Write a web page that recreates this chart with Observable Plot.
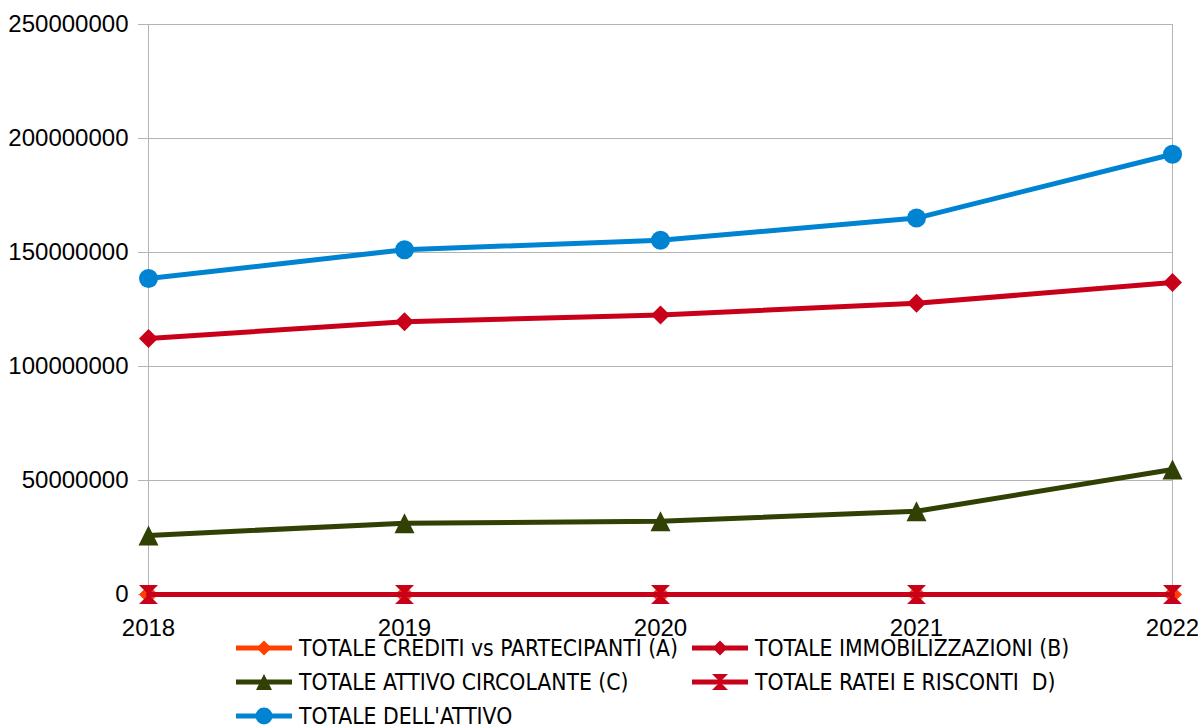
<!DOCTYPE html>
<html><head><meta charset="utf-8">
<script src="https://cdn.jsdelivr.net/npm/d3@7"></script>
<script src="https://cdn.jsdelivr.net/npm/@observablehq/plot@0.6"></script>
<style>
body{margin:0;background:#fff;}
#wrap{position:relative;width:1198px;height:728px;overflow:hidden;}
#legend{position:absolute;left:236px;top:631px;display:grid;grid-template-columns:456px auto;grid-auto-rows:34px;font-family:"Liberation Sans Narrow","DejaVu Sans Condensed",sans-serif;font-size:22.7px;color:#000;}
.item{display:flex;align-items:center;white-space:pre;}
.item svg{margin-right:7px;flex:none;}
</style></head><body><div id="wrap"></div>
<script>
const years = [2018, 2019, 2020, 2021, 2022];
const seriesNames = [
  "TOTALE CREDITI vs PARTECIPANTI (A)",
  "TOTALE IMMOBILIZZAZIONI (B)",
  "TOTALE ATTIVO CIRCOLANTE (C)",
  "TOTALE RATEI E RISCONTI  D)",
  "TOTALE DELL'ATTIVO"
];
const crediti = [0, 0, 0, 0, 0];
const immobilizzazioni = [112300000, 119600000, 122600000, 127700000, 136800000];
const circolante = [25900000, 31300000, 32100000, 36500000, 54800000];
const ratei = [0, 0, 0, 0, 0];
const totaleAttivo = [138600000, 151200000, 155400000, 165100000, 193100000];
const seriesColors = ["#ff4000", "#c8001a", "#314004", "#c8001a", "#0084d1"];
const yTicks = [0, 50000000, 100000000, 150000000, 200000000, 250000000];

const seriesValues = [crediti, immobilizzazioni, circolante, ratei, totaleAttivo];

// custom marker shapes (size -> half-extent r)
const half = s => Math.sqrt(s / Math.PI);
const diamond = {draw(c, s){const r = half(s); c.moveTo(0,-r); c.lineTo(r,0); c.lineTo(0,r); c.lineTo(-r,0); c.closePath();}};
const triangle = {draw(c, s){const r = half(s); c.moveTo(0,-r); c.lineTo(r,r); c.lineTo(-r,r); c.closePath();}};
const hourglass = {draw(c, s){const r = half(s); c.moveTo(-r,-r); c.lineTo(r,-r); c.lineTo(0,0); c.closePath(); c.moveTo(-r,r); c.lineTo(r,r); c.lineTo(0,0); c.closePath();}};
const circle = {draw(c, s){const r = half(s); c.moveTo(r,0); c.arc(0,0,r,0,2*Math.PI); c.closePath();}};
const seriesSymbols = [diamond, diamond, triangle, hourglass, circle];
const markerR = [9.5, 9.5, 10, 9.5, 9.5];

const series = seriesNames.map((name, i) => ({
  name, color: seriesColors[i], symbol: seriesSymbols[i], r: markerR[i],
  data: years.map((year, j) => ({year, value: seriesValues[i][j]}))
}));

const marks = [
  Plot.gridY(yTicks, {stroke: "#b3b3b3", strokeOpacity: 1, strokeWidth: 1}),
  Plot.ruleX([years[0], years[years.length - 1]], {stroke: "#b3b3b3", strokeWidth: 1}),
  Plot.axisY(yTicks, {tickSize: 10, tickPadding: 10, stroke: "#b3b3b3", fill: "#000", tickFormat: d3.format("d"), label: null}),
  Plot.axisX(years, {tickSize: 0, tickPadding: 24, fill: "#000", tickFormat: d3.format("d"), label: null})
];
for (const s of series) {
  marks.push(Plot.line(s.data, {x: "year", y: "value", stroke: s.color, strokeWidth: 5, strokeLinejoin: "round"}));
  marks.push(Plot.dot(s.data, {x: "year", y: "value", symbol: s.symbol, r: s.r, fill: s.color, stroke: "none"}));
}

const chart = Plot.plot({
  width: 1198,
  height: 640,
  marginTop: 24,
  marginBottom: 46,
  marginLeft: 148,
  marginRight: 26,
  style: {fontFamily: "'Liberation Sans', Arial, sans-serif", fontSize: "24px", color: "#000", background: "#fff"},
  x: {type: "linear", domain: [years[0], years[years.length - 1]]},
  y: {domain: [yTicks[0], yTicks[yTicks.length - 1]]},
  marks
});
const wrap = document.getElementById("wrap");
wrap.appendChild(chart);

// legend built from the same series arrays
const legend = d3.select(wrap).append("div").attr("id", "legend");
const legendR = [7.5, 7.5, 8, 8, 8.5];
series.forEach((s, i) => {
  const item = legend.append("div").attr("class", "item");
  const svg = item.append("svg").attr("width", 56).attr("height", 24);
  svg.append("line").attr("x1", 0).attr("x2", 56).attr("y1", 12).attr("y2", 12)
    .attr("stroke", s.color).attr("stroke-width", 5);
  svg.append("path").attr("transform", "translate(28,12)")
    .attr("d", d3.symbol(s.symbol, legendR[i] * legendR[i] * Math.PI)())
    .attr("fill", s.color);
  item.append("span").text(s.name);
});
</script>
</body></html>
